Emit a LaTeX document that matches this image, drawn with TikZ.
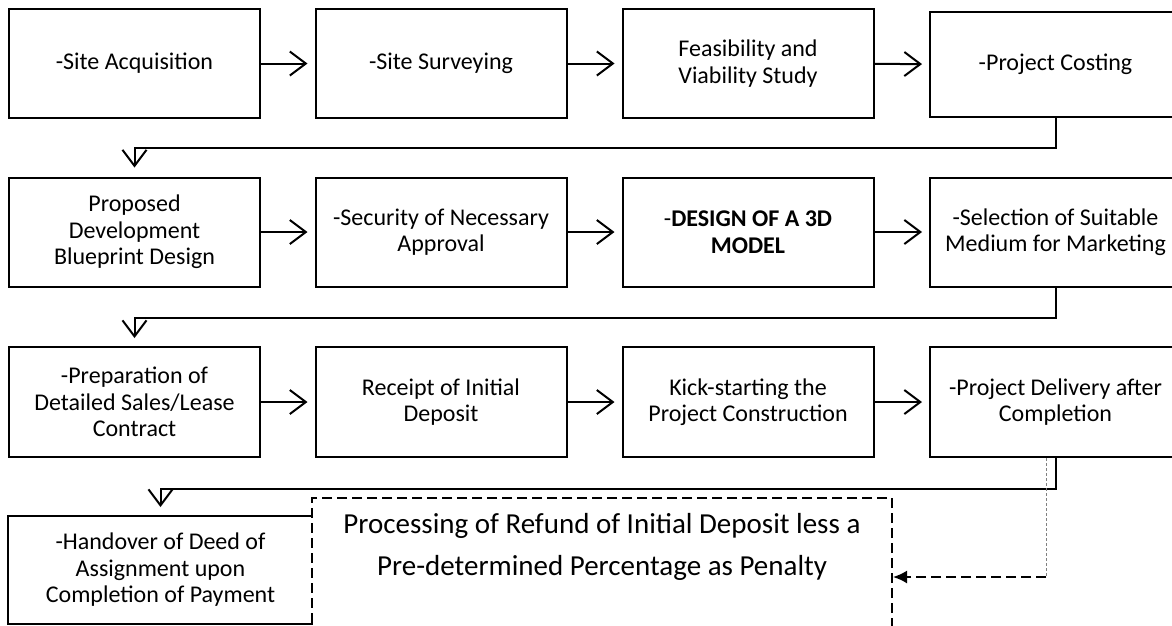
\documentclass[tikz,border=0pt]{standalone}
\usepackage{fontspec}
\setmainfont{Carlito}
\usetikzlibrary{arrows.meta}
\tikzset{
  stage/.style={draw, line width=2pt, minimum width=251pt, minimum height=109pt,
    inner sep=0pt, align=center, font=\fontsize{24}{26.5}\selectfont},
  flow/.style={-{Straight Barb[length=16pt,width=24pt,line width=2pt]}, line width=2pt, shorten >=7pt},
  refundbox/.style={draw, line width=2pt, dash pattern=on 10pt off 5pt,
    minimum width=580pt, minimum height=150pt, anchor=north},
}

\begin{document}
\begin{tikzpicture}[x=1pt, y=-1pt]
	\useasboundingbox (0,0) rectangle (1172,625);
	%%% Row 1
	\node[stage] (acq) at (134.5,63.5) {-Site Acquisition};
	\node[stage] (survey) at (441,63.5) {-Site Surveying};
	\node[stage] (feas) at (748,63.5) {Feasibility and\\Viability Study};
	\node[stage, minimum height=105pt] (cost) at (1055.5,64.5) {-Project Costing};
	%%% Row 2
	\node[stage] (blueprint) at (134.5,232) {Proposed\\Development\\Blueprint Design};
	\node[stage] (approval) at (441,232) {-Security of Necessary\\Approval};
	\node[stage] (model) at (748,232) {-\textbf{DESIGN OF A 3D}\\\textbf{MODEL}};
	\node[stage] (medium) at (1055.5,232) {-Selection of Suitable\\Medium for Marketing};
	%%% Row 3
	\node[stage, minimum height=110pt] (contract) at (134.5,402) {-Preparation of\\Detailed Sales/Lease\\Contract};
	\node[stage, minimum height=110pt] (deposit) at (441,402) {Receipt of Initial\\Deposit};
	\node[stage, minimum height=110pt] (kickoff) at (748,402) {Kick-starting the\\Project Construction};
	\node[stage, minimum height=110pt] (delivery) at (1055.5,402) {-Project Delivery after\\Completion};
	%%% Row 4
	\node[stage, draw=none, minimum width=303pt, minimum height=106pt] (handover) at (160.5,570) {-Handover of Deed of\\Assignment upon\\Completion of Payment};
	\draw[line width=2pt] (handover.north east) -- (handover.north west) -- (handover.south west) -- (handover.south east);
	\node[refundbox] (refund) at (602,497) {};
	\node[align=center, font=\fontsize{29}{42}\selectfont] (refundtxt) at (602,547) {Processing of Refund of Initial Deposit less a\\Pre-determined Percentage as Penalty};
	
	%%% Arrows along the rows
	\draw[flow] (acq) -- (survey);
	\draw[flow] (survey) -- (feas);
	\draw[flow] (feas) -- (cost);
	\draw[flow] (blueprint) -- (approval);
	\draw[flow] (approval) -- (model);
	\draw[flow] (model) -- (medium);
	\draw[flow] (contract) -- (deposit);
	\draw[flow] (deposit) -- (kickoff);
	\draw[flow] (kickoff) -- (delivery);
	%%% Arrows to the next row
	\draw[flow, shorten >=9pt] (cost.south) -- ++(0,30) -| (blueprint.north);
	\draw[flow, shorten >=8pt] (medium.south) -- ++(0,30) -| (contract.north);
	\draw[flow, shorten >=9pt] (delivery.south) -- ++(0,31) -| (handover.north);
	%%% Refund branch
	\coordinate (turn) at (1046,577);
	\draw[gray, line width=1pt, dash pattern=on 3pt off 2pt] (delivery.south -| turn) -- (turn);
	\draw[-{Latex[length=14pt,width=13pt]}, line width=2pt, dash pattern=on 10pt off 5pt] (turn) -- (turn -| refund.east);
\end{tikzpicture}
\end{document}
